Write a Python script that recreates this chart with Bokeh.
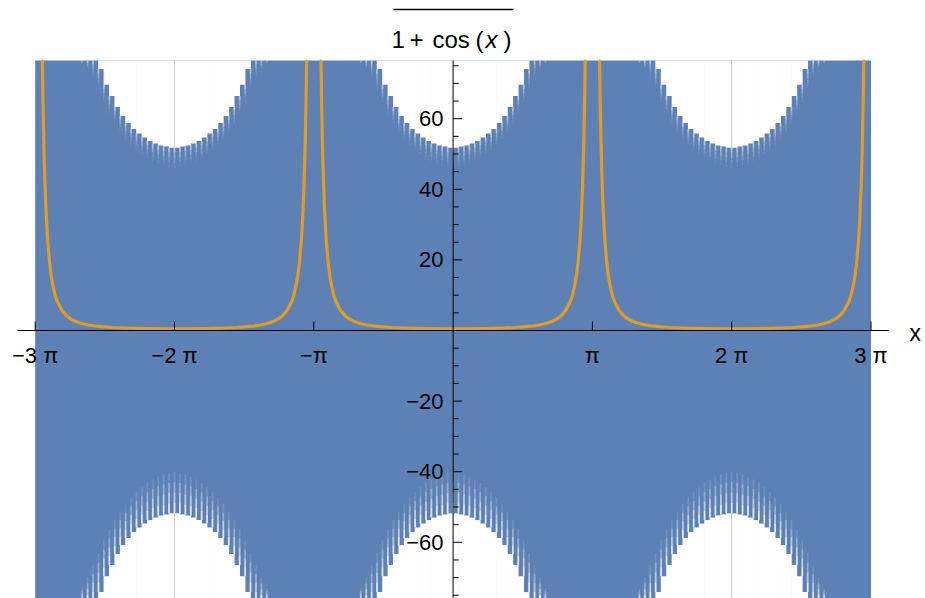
import numpy as np
from bokeh.plotting import figure
from bokeh.models import Range1d
from bokeh.embed import file_html
from bokeh.resources import INLINE
from bokeh.core.properties import value

PI = np.pi

# ---------------- data ----------------
x_tick_multiples = [-3, -2, -1, 1, 2, 3]          # ticks at multiples of pi
x_tick_labels = ["−3 π", "−2 π", "−π", "π", "2 π", "3 π"]
y_major_ticks = [-60, -40, -20, 20, 40, 60]
y_tick_labels = ["−60", "−40", "−20", "20", "40", "60"]
y_minor_ticks = [-75, -70, -65, -55, -50, -45, -35, -30, -25, -15, -10, -5,
                 5, 10, 15, 25, 30, 35, 45, 50, 55, 65, 70, 75]

# orange curve: value against distance (rad) from the pole on its left, one half period
pole_dist = [0.162, 0.17, 0.18, 0.20, 0.22, 0.25, 0.28, 0.32, 0.36, 0.40, 0.45, 0.50,
             0.60, 0.70, 0.80, 0.90, 1.00, 1.10, 1.20, 1.35, 1.50, 1.75, 2.00, 2.25,
             2.50, 3.1416]
orange_val = [76.3, 69.4, 61.9, 50.2, 41.5, 32.2, 25.7, 19.7, 15.6, 12.7, 10.0, 8.17,
              5.73, 4.25, 3.30, 2.64, 2.18, 1.83, 1.57, 1.28, 1.08, 0.85, 0.71, 0.61,
              0.56, 0.50]
period_centres = [-2, 0, 2]      # multiples of pi (curve centres / blue notch centres)

# blue oscillating band: tip height of each tooth, counted outward from a notch centre
tooth_tip = [51.8, 52.1, 52.4, 53.0, 53.7, 54.7, 55.8, 57.1, 58.8, 60.8, 63.3, 66.4,
             69.6, 74.1, 79.0, 85.0, 92.0, 100.0, 110.0]
# where the light gaps between teeth fade out (upper side / lower side, absolute values)
top_gap_base = [46.0, 46.3, 46.8, 47.3, 48.0, 49.0, 50.0, 51.2, 52.6, 54.3, 56.3, 58.7,
                61.5, 64.8, 68.5, 72.0, 74.0, 75.5]
bottom_gap_base = [40.0, 40.3, 40.8, 41.4, 42.2, 43.2, 44.4, 45.8, 47.4, 49.2, 51.3, 53.7,
                   56.4, 59.5, 63.0, 66.5, 70.0, 73.0]

# ---------------- layout ----------------
BLUE = "#5E81B5"
ORANGE = "#E19C24"
FONT = "Liberation Sans"
W, H = 925, 598
OFF = 0
X0, PIPX = 452.6, 139.3      # page x of 0, pixels per pi
Y0, UPX = 330.0, 3.53        # page y of 0, pixels per unit


def dx(px):
    return (px - X0) / PIPX * PI


def dy(py):
    return (Y0 - py) / UPX


TOP = dy(60)
BOT = dy(602)

p = figure(width=W, height=H, output_backend="svg", toolbar_location=None,
           x_range=Range1d(dx(OFF), dx(OFF + W)), y_range=Range1d(dy(OFF + H), dy(OFF)),
           min_border=0, x_axis_type=None, y_axis_type=None)
p.grid.visible = False
p.outline_line_color = None
p.background_fill_color = "white"
p.border_fill_color = "white"

# blue filled band
p.quad(left=[-3 * PI], right=[3 * PI], bottom=[BOT], top=[TOP],
       fill_color=BLUE, line_color=None)

s = 5.43 / PIPX * PI          # tooth spacing
ov = 0.06 * s
wl, wr, wb, wt = [], [], [], []
for c in period_centres:
    cx = c * PI
    for k, tip in enumerate(tooth_tip):
        if tip >= TOP:
            continue
        for sgn in (-1, 1):
            xc = cx + sgn * (k + 0.5) * s
            wl += [xc - s / 2 - ov, xc - s / 2 - ov]
            wr += [xc + s / 2 + ov, xc + s / 2 + ov]
            wb += [tip, BOT - 1]
            wt += [TOP, -tip]
p.quad(left=wl, right=wr, bottom=wb, top=wt, fill_color="white", line_color=None)

# fading light gaps between teeth
gw = 0.32 * s
gl, gr, gb, gt, ga = [], [], [], [], []
top_alpha = [0.5, 0.3, 0.16, 0.06]
bot_alpha = [0.85, 0.6, 0.35, 0.12]
for c in period_centres:
    cx = c * PI
    for j in range(len(top_gap_base)):
        left_tip = tooth_tip[0] if j == 0 else tooth_tip[j - 1]
        upper = min(left_tip, tooth_tip[j], TOP)
        offs = [0.0] if j == 0 else [-j * s, j * s]
        for side, base, alphas in ((1, top_gap_base[j], top_alpha),
                                   (-1, bottom_gap_base[j], bot_alpha)):
            if base >= upper:
                continue
            n = len(alphas)
            for i in range(n):
                hi = upper - (upper - base) * i / n
                lo = upper - (upper - base) * (i + 1) / n
                for o in offs:
                    gl.append(cx + o - gw / 2)
                    gr.append(cx + o + gw / 2)
                    if side == 1:
                        gb.append(lo); gt.append(hi)
                    else:
                        gb.append(-hi); gt.append(-lo)
                    ga.append(alphas[i])
p.quad(left=gl, right=gr, bottom=gb, top=gt, fill_color="white", fill_alpha=ga,
       line_color=None)

# vertical grid lines at +-2 pi (visible in the white notches)
for m in (-2, 2):
    p.segment(x0=[m * PI, m * PI], y0=[tooth_tip[0], -tooth_tip[0]],
              x1=[m * PI, m * PI], y1=[TOP, BOT], line_color="#CFCFCF", line_width=1.2)

# orange curve 1/(1+cos x)
for c in period_centres:
    cx = c * PI
    xs = [cx - PI + d for d in pole_dist] + [cx + PI - d for d in reversed(pole_dist[:-1])]
    ys = list(orange_val) + list(reversed(orange_val[:-1]))
    p.line(xs, ys, line_color=ORANGE, line_width=3.2, line_join="round", line_cap="round")

# axes
p.segment(x0=[dx(17)], y0=[0], x1=[dx(888)], y1=[0], line_color="black", line_width=1)
p.segment(x0=[0], y0=[BOT], x1=[0], y1=[TOP], line_color="black", line_width=1)
p.segment(x0=[m * PI for m in x_tick_multiples], y0=[0] * 6,
          x1=[m * PI for m in x_tick_multiples], y1=[9 / UPX] * 6,
          line_color="black", line_width=1)
p.segment(x0=[0] * len(y_major_ticks), y0=y_major_ticks,
          x1=[9 / PIPX * PI] * len(y_major_ticks), y1=y_major_ticks,
          line_color="black", line_width=1)
p.segment(x0=[0] * len(y_minor_ticks), y0=y_minor_ticks,
          x1=[5.5 / PIPX * PI] * len(y_minor_ticks), y1=y_minor_ticks,
          line_color="black", line_width=1)

p.text(x=[m * PI for m in x_tick_multiples], y=[dy(355)] * 6, text=x_tick_labels,
       text_font=value(FONT), text_font_size=value("22px"), text_align="center",
       text_baseline="middle", text_color="black")
p.text(x=[dx(443)] * 6, y=y_major_ticks, text=y_tick_labels,
       text_font=value(FONT), text_font_size=value("22px"), text_align="right",
       text_baseline="middle", text_color="black")
p.text(x=[dx(909)], y=[dy(332)], text=["x"], text_font=value(FONT),
       text_font_size=value("23px"), text_align="left", text_baseline="middle",
       text_color="black")

# title (fraction, numerator cut off)
p.segment(x0=[dx(393)], y0=[dy(9)], x1=[dx(513)], y1=[dy(9)], line_color="black",
          line_width=1.5)
title_parts = ["1", "+", "cos", "(", ")"]
title_px = [391, 409, 432, 475, 503]
p.text(x=[dx(v) for v in title_px], y=[dy(39)] * 5, text=title_parts,
       text_font=value(FONT), text_font_size=value("24px"), text_align="left",
       text_baseline="alphabetic", text_color="black")
p.text(x=[dx(485)], y=[dy(39)], text=["x"], text_font=value(FONT),
       text_font_size=value("24px"), text_font_style="italic", text_align="left",
       text_baseline="alphabetic", text_color="black")

open("out.html", "w").write(file_html(p, INLINE))
